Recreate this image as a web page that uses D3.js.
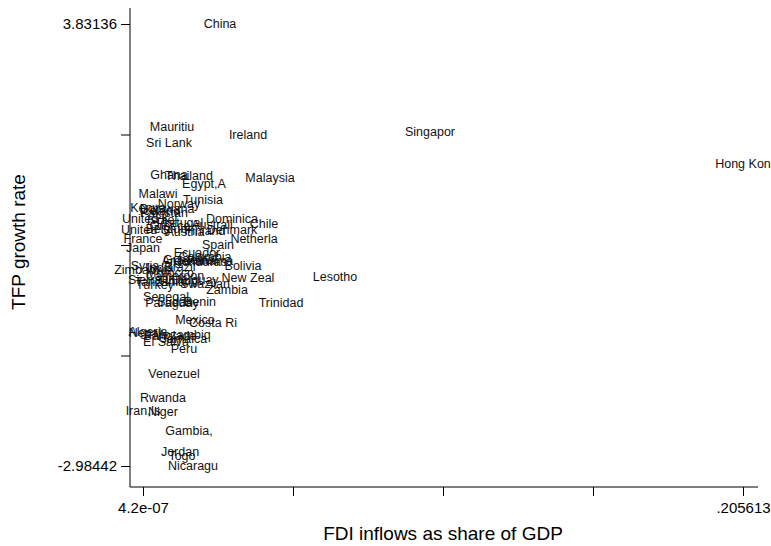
<!DOCTYPE html>
<html>
<head>
<meta charset="utf-8">
<script src="https://cdn.jsdelivr.net/npm/d3@7"></script>
<style>
  body { margin: 0; background: #fff; }
  svg { font-family: "Liberation Sans", Arial, sans-serif; }
  .axis path, .axis line { stroke: #000; stroke-width: 1; }
  .axis text { font-size: 15px; fill: #000; }
  .lab { font-size: 12.5px; fill: #111; }
</style>
</head>
<body>
<div id="chart"></div>
<script>
// country labels, FDI share and TFP growth
var countries = ["China","Mauritiu","Sri Lank","Ireland","Singapor","Hong Kon","Ghana","Thailand","Egypt,A","Malaysia",
  "Malawi","Tunisia","Norway","Kenya","Iceland","Botswana","Pakistan","United K","Israel","Dominica",
  "Australi","Chile","Portugal","Greece","United S","Belgium","Finland","Denmark","Austria","France",
  "Netherla","Japan","Spain","Ecuador","Colombia","Guatemal","Honduras","Argentin","Panama","Bolivia",
  "Brazil","Syria","Zimbabwe","India","Morocco","Cameroon","Sierra L","Tanzania","Philippi","Uruguay",
  "Turkey","Swazilan","New Zeal","Lesotho","Zambia","Senegal","Paraguay","Benin","Sudan","Trinidad",
  "Mexico","Costa Ri","Algeria","Nepal","Banglade","Mozambiq","Jamaica","El Salva","Peru","Venezuel",
  "Rwanda","Iran,Is","Niger","Gambia,","Jordan","Togo","Nicaragu"];
var fdi = [0.02639,0.00994,0.00891,0.03598,0.09835,0.205613,0.00891,0.01576,0.02090,0.04352,
  0.00514,0.02056,0.01234,0.00171,0.00583,0.00822,0.00720,0.00103,0.00651,0.03050,
  0.02365,0.04147,0.01268,0.00925,0.00069,0.00857,0.02125,0.03050,0.01439,0.00002,
  0.03804,0.00000042,0.02570,0.01851,0.02125,0.01611,0.01953,0.01439,0.02296,0.03427,
  0.01268,0.00069,0.00001,0.00583,0.00925,0.01097,0.00240,0.00583,0.01268,0.01782,
  0.00411,0.02125,0.03598,0.06580,0.02879,0.00788,0.00994,0.01953,0.01097,0.04729,
  0.01782,0.02399,0.00171,0.00069,0.00925,0.01336,0.01405,0.00788,0.01405,0.01062,
  0.00685,0.00001,0.00685,0.01576,0.01268,0.01336,0.01713];
var tfp = [3.83136,2.243,1.996,2.120,2.166,1.673,1.503,1.488,1.364,1.457,
  1.210,1.117,1.056,0.994,0.948,0.979,0.917,0.824,0.809,0.824,
  0.732,0.747,0.763,0.717,0.655,0.670,0.639,0.655,0.624,0.516,
  0.516,0.377,0.424,0.300,0.238,0.192,0.161,0.177,0.177,0.100,
  0.084,0.100,0.038,0.069,-0.008,-0.055,-0.116,-0.147,-0.132,-0.116,
  -0.193,-0.178,-0.085,-0.070,-0.270,-0.378,-0.471,-0.455,-0.455,-0.471,
  -0.733,-0.779,-0.918,-0.933,-0.980,-0.964,-1.026,-1.072,-1.180,-1.566,
  -1.936,-2.136,-2.151,-2.444,-2.768,-2.830,-2.98442];

var xTicks = [0.00000042, 0.05140306, 0.10280571, 0.15420835, 0.205613];
var xTickLabels = ["4.2e-07", "", "", "", ".205613"];
var yTicks = [-2.98442, -1.280475, 0.42347, 2.127415, 3.83136];
var yTickLabels = ["-2.98442", "", "", "", "3.83136"];

var width = 771, height = 546;
var svg = d3.select("#chart").append("svg").attr("width", width).attr("height", height);

var x = d3.scaleLinear().domain([xTicks[0], xTicks[4]]).range([143, 743]);
var y = d3.scaleLinear().domain([yTicks[0], yTicks[4]]).range([466, 24]);

var plotLeft = 130, plotBottom = 487, plotTop = 8, plotRight = 758;

// axes
var yAxis = d3.axisLeft(y).tickValues(yTicks).tickSize(9).tickPadding(4)
  .tickFormat(function (d, i) { return yTickLabels[i]; });
var gy = svg.append("g").attr("class", "axis").attr("transform", "translate(" + plotLeft + ",0)").call(yAxis);
gy.select(".domain").attr("d", "M0," + plotTop + "V" + plotBottom);

var xAxis = d3.axisBottom(x).tickValues(xTicks).tickSize(9).tickPadding(6)
  .tickFormat(function (d, i) { return xTickLabels[i]; });
var gx = svg.append("g").attr("class", "axis").attr("transform", "translate(0," + plotBottom + ")").call(xAxis);
gx.select(".domain").attr("d", "M" + plotLeft + ",0H" + plotRight);

// axis titles
svg.append("text").attr("x", 443).attr("y", 540).attr("text-anchor", "middle")
  .style("font-size", "19px").text("FDI inflows as share of GDP");
svg.append("text").attr("transform", "translate(25,242) rotate(-90)").attr("text-anchor", "middle")
  .style("font-size", "19px").text("TFP growth rate");

// labels as markers
svg.append("g").selectAll("text").data(countries).enter().append("text")
  .attr("class", "lab")
  .attr("x", function (d, i) { return x(fdi[i]); })
  .attr("y", function (d, i) { return y(tfp[i]); })
  .attr("dy", "0.35em")
  .attr("text-anchor", "middle")
  .text(function (d) { return d; });
</script>
</body>
</html>
